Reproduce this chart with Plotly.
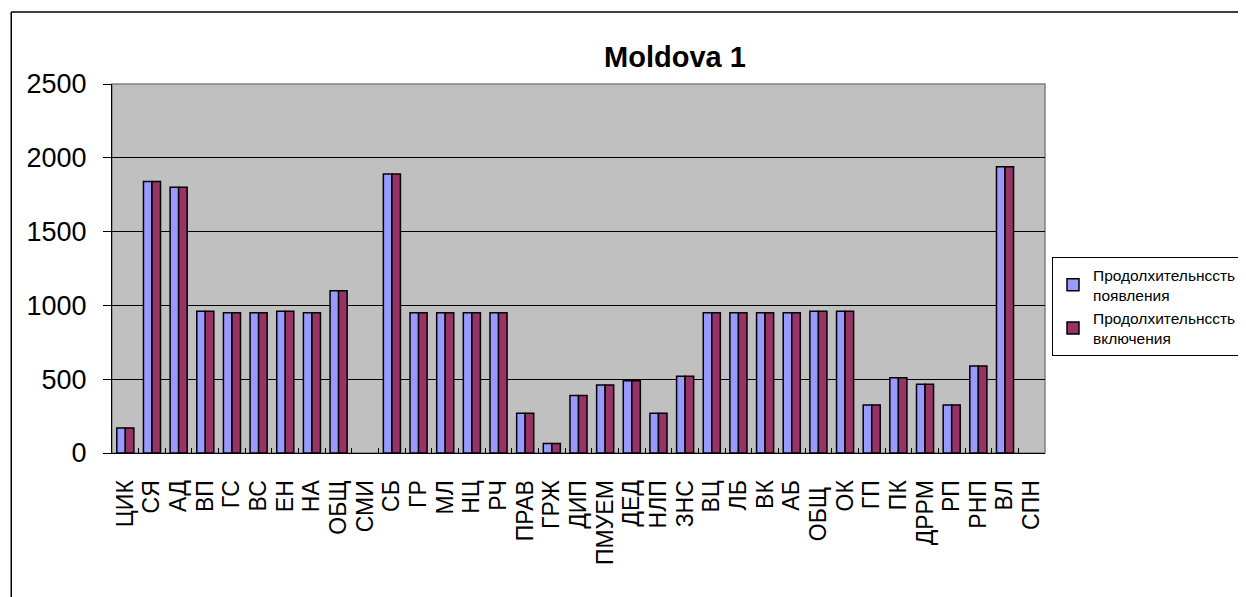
import plotly.graph_objects as go

# categories and values
categories = ["ЦИК", "СЯ", "АД", "ВП", "ГС", "ВС", "ЕН", "НА", "ОБЩ", "СМИ",
              "СБ", "ГР", "МЛ", "НЦ", "РЧ", "ПРАВ", "ГРЖ", "ДИП", "ПМУЕМ", "ДЕД",
              "НЛП", "ЗНС", "ВЦ", "ЛБ", "ВК", "АБ", "ОБЩ ", "ОК", "ГП", "ПК",
              "ДРРМ", "РП", "РНП", "ВЛ", "СПН"]

# СМИ and СПН have no bars
appear = [170, 1840, 1800, 960, 950, 950, 960, 950, 1100, None,
          1890, 950, 950, 950, 950, 270, 65, 390, 460, 490,
          270, 520, 950, 950, 950, 950, 960, 960, 325, 510,
          465, 325, 590, 1940, None]
switch_on = [170, 1840, 1800, 960, 950, 950, 960, 950, 1100, None,
             1890, 950, 950, 950, 950, 270, 65, 390, 460, 490,
             270, 520, 950, 950, 950, 950, 960, 960, 325, 510,
             465, 325, 590, 1940, None]

names = ["Продолхительнсcть<br>появления", "Продолхительнсcть<br>включения"]
colors = ["#9999FF", "#993366"]

FONT = "Liberation Sans, Arial, sans-serif"

fig = go.Figure()
for vals, nm, col in zip([appear, switch_on], names, colors):
    fig.add_trace(go.Bar(x=categories, y=vals, name=nm,
                         marker=dict(color=col, line=dict(color="black", width=1.5))))

# page body has an 8px margin, so everything is shifted up/left by 8
fig.update_layout(
    width=1246, height=597,
    margin=dict(l=104, r=209, t=76, b=152, autoexpand=False),
    paper_bgcolor="white", plot_bgcolor="#C0C0C0",
    barmode="group", bargap=0.36, bargroupgap=0,
    font=dict(family=FONT, color="black"),
    title=dict(text="<b>Moldova 1</b>", x=0.5353, y=0.918, xref="container",
               yref="container", xanchor="center", yanchor="middle",
               font=dict(size=29, family=FONT)),
    legend=dict(x=1.0075, y=0.531, xanchor="left", yanchor="top",
                bordercolor="black", borderwidth=1, bgcolor="white",
                font=dict(size=15.5, family=FONT), tracegroupgap=6,
                itemwidth=30),
    showlegend=True,
)

fig.update_xaxes(type="category", tickangle=-90, tickfont=dict(size=23),
                 tickmode="linear", dtick=1, automargin=False,
                 ticks="inside", tickson="boundaries", ticklen=5, tickcolor="black",
                 showline=True, linecolor="black", linewidth=1, showgrid=False,
                 ticklabelstandoff=17)
fig.update_yaxes(range=[0, 2500], dtick=500, tickfont=dict(size=27),
                 automargin=False,
                 ticks="outside", ticklen=8, tickcolor="black",
                 showline=True, linecolor="black", linewidth=1,
                 gridcolor="black", gridwidth=1, zeroline=False,
                 ticklabelstandoff=11)

# gray border on top/right of the plot area, and the outer chart frame
fig.add_shape(type="rect", xref="paper", yref="paper", x0=0, x1=1, y0=0, y1=1,
              line=dict(color="#808080", width=1.5), layer="below")
fig.add_shape(type="line", xref="paper", yref="paper", x0=-0.108, x1=1.3,
              y0=1.195, y1=1.195, line=dict(color="black", width=1.5))
fig.add_shape(type="line", xref="paper", yref="paper", x0=-0.108, x1=-0.108,
              y0=1.195, y1=-0.5, line=dict(color="black", width=1.5))

fig.write_html("out.html")
